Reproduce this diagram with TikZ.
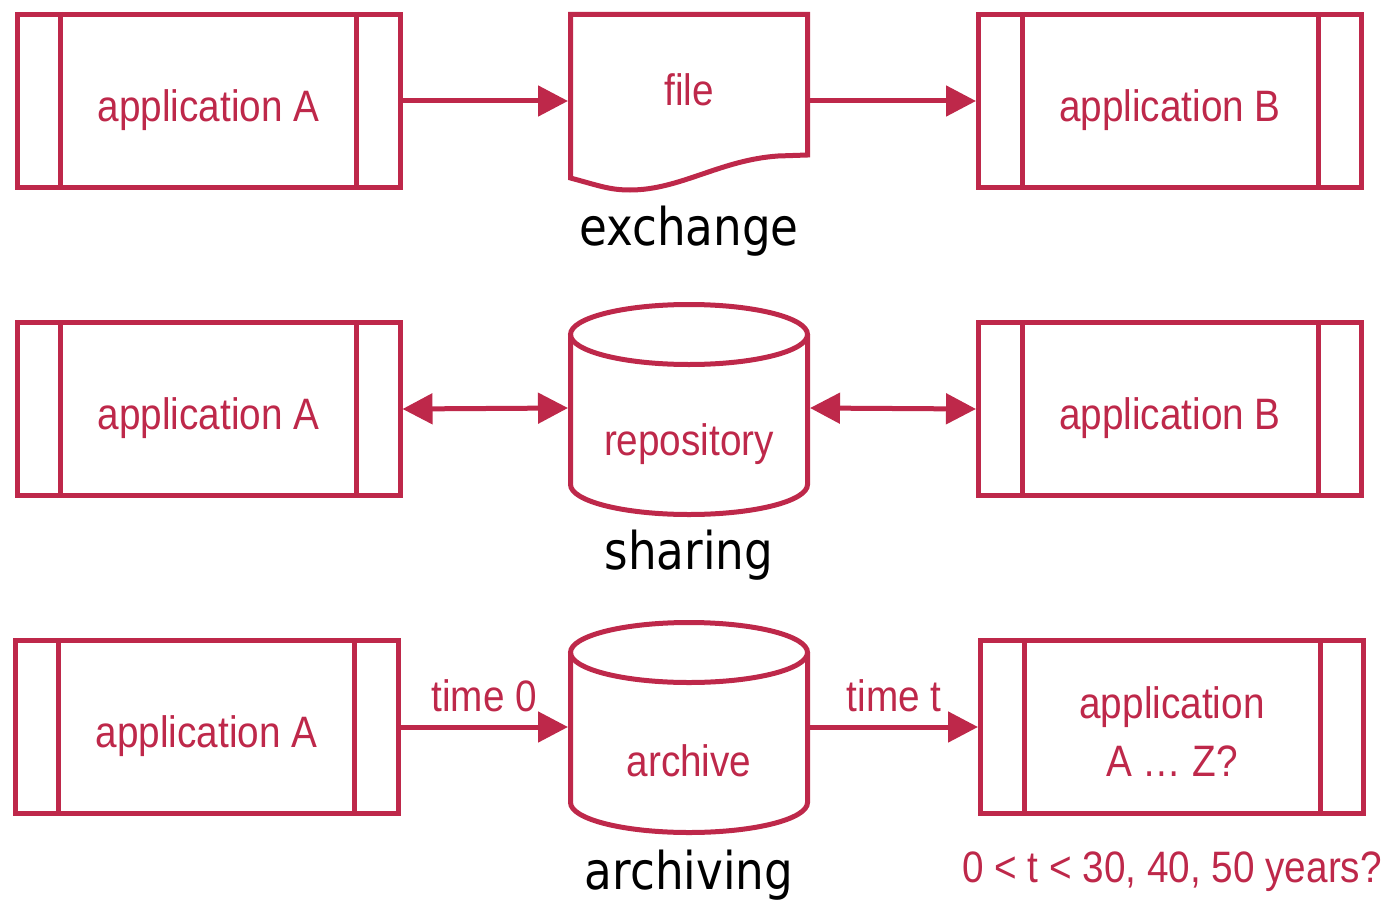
\documentclass[tikz,border=0pt]{standalone}
\usepackage{fontspec}
\newfontfamily\redfont[FakeStretch=0.88]{Liberation Sans}
\newfontfamily\blackfont[FakeStretch=0.87]{DejaVu Sans}
\usetikzlibrary{arrows.meta}
\definecolor{dred}{RGB}{190,40,74}
\begin{document}
\begin{tikzpicture}[x=0.5pt,y=-0.5pt,line width=2.5pt,
  app/.style={draw=dred,minimum width=191.5pt,minimum height=86.5pt,inner sep=0pt,
    text=dred,font=\redfont\fontsize{22}{28.5}\selectfont,text height=28pt,text depth=8pt},
  holder/.style={minimum width=118.5pt,minimum height=20pt,inner sep=0pt},
  rtext/.style={text=dred,font=\redfont\fontsize{22}{28.5}\selectfont,inner sep=0pt,anchor=base},
  btext/.style={text=black,font=\blackfont\fontsize{26}{30}\selectfont,inner sep=0pt,anchor=base},
  arr/.style={draw=dred,-{Triangle[length=15pt,width=15pt]}},
  darr/.style={draw=dred,{Triangle[length=15pt,width=15pt]}-{Triangle[length=15pt,width=15pt]}}]
\useasboundingbox (0,0) rectangle (1391,904);
% application boxes
\node[app] (a1) at (208.5,101) {application A};
\node[app] (b1) at (1170,101) {application B};
\node[app] (a2) at (208.5,409) {application A};
\node[app] (b2) at (1170,409) {application B};
\node[app] (a3) at (206.5,727) {application A};
\node[app] (b3) at (1172,727) {};
\foreach \n in {a1,b1,a2,b2,a3,b3}{
  \draw[dred] ([xshift=23pt]\n.north west) -- ([xshift=23pt]\n.south west);
  \draw[dred] ([xshift=-23pt]\n.north east) -- ([xshift=-23pt]\n.south east);
}
\node[rtext] (b3t1) at (1172,718) {application};
\node[rtext] (b3t2) at (1172,776) {A … Z?};
% file
\draw[dred,line join=miter] (570.5,178) .. controls (600,186) and (610,190) .. (630,190)
  .. controls (680,190) and (720,160) .. (778,156) -- (807.5,155) -- (807.5,14.5)
  -- (570.5,14.5) -- cycle;
\node[holder] (file) at (689,101) {};
\node[rtext] (filet) at (689,105) {file};
\node[btext] (ex) at (689,245) {exchange};
% repository
\draw[dred] (689,334.5) ellipse[x radius=59.25pt,y radius=15pt];
\draw[dred] (570.5,334.5) -- (570.5,484.5) arc[start angle=180,end angle=360,x radius=59.25pt,y radius=15pt] -- (807.5,334.5);
\node[holder] (cyl2) at (689,408) {};
\node[rtext] (rep) at (689,455) {repository};
\node[btext] (sh) at (689,569) {sharing};
% archive
\draw[dred] (689,652.5) ellipse[x radius=59.25pt,y radius=15pt];
\draw[dred] (570.5,652.5) -- (570.5,802.5) arc[start angle=180,end angle=360,x radius=59.25pt,y radius=15pt] -- (807.5,652.5);
\node[holder] (cyl3) at (689,727) {};
\node[rtext] (arc) at (689,776) {archive};
\node[btext] (ar) at (689,889) {archiving};
\node[rtext] (yrs) at (1172,882) {0 < t < 30, 40, 50 years?};
% connectors
\draw[arr] (a1.east) -- (file.west);
\draw[arr] (file.east) -- (b1.west);
\draw[darr] (a2.east) -- (cyl2.west);
\draw[darr] (cyl2.east) -- (b2.west);
\draw[arr] (a3.east) -- node[rtext,midway,yshift=8pt] {time 0} (cyl3.west);
\draw[arr] (cyl3.east) -- node[rtext,midway,yshift=8pt] {time t} (b3.west);
\end{tikzpicture}
\end{document}
